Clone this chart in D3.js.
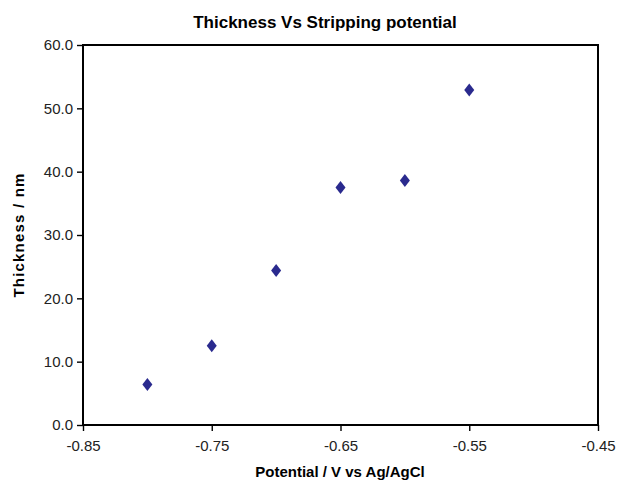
<!DOCTYPE html>
<html>
<head>
<meta charset="utf-8">
<script src="https://cdn.jsdelivr.net/npm/d3@7"></script>
<style>
  body { margin: 0; background: #fff; }
</style>
</head>
<body>
<div id="chart"></div>
<script>
// data
const potential = [-0.80, -0.75, -0.70, -0.65, -0.60, -0.55];
const thickness = [6.4, 12.5, 24.4, 37.5, 38.6, 52.9];
const xTicks = [-0.85, -0.75, -0.65, -0.55, -0.45];
const yTicks = [0, 10, 20, 30, 40, 50, 60];

const width = 619, height = 486;
const margin = {top: 45, right: 21, bottom: 61, left: 83};

const svg = d3.select('#chart').append('svg')
    .attr('width', width)
    .attr('height', height);

const x = d3.scaleLinear()
    .domain([-0.85, -0.45])
    .range([margin.left, width - margin.right]);

const y = d3.scaleLinear()
    .domain([0, 60])
    .range([height - margin.bottom, margin.top]);

// frame
svg.append('rect')
    .attr('x', x(-0.85))
    .attr('y', y(60))
    .attr('width', x(-0.45) - x(-0.85))
    .attr('height', y(0) - y(60))
    .attr('fill', 'none')
    .attr('stroke', '#000')
    .attr('stroke-width', 2);

const fmtX = d => d3.format('.2f')(d).replace('\u2212', '-');

const xAxis = svg.append('g')
    .attr('transform', `translate(0,${y(0)})`)
    .call(d3.axisBottom(x).tickValues(xTicks).tickFormat(fmtX).tickSize(6).tickPadding(9));

const yAxis = svg.append('g')
    .attr('transform', `translate(${x(-0.85)},0)`)
    .call(d3.axisLeft(y).tickValues(yTicks).tickFormat(d3.format('.1f')).tickSize(6).tickPadding(4));

[xAxis, yAxis].forEach(a => {
    a.select('.domain').remove();
    a.selectAll('.tick line').attr('stroke', '#000').attr('stroke-width', 1.4);
    a.selectAll('.tick text')
        .attr('fill', '#222')
        .style('font-size', '15px')
        .style('font-family', '"Liberation Sans", Arial, sans-serif');
});

// points
svg.append('g').selectAll('path')
    .data(potential.map((p, i) => [p, thickness[i]]))
    .join('path')
    .attr('transform', d => `translate(${x(d[0])},${y(d[1])})`)
    .attr('d', 'M0,-6.5L5,0L0,6.5L-5,0Z')
    .attr('fill', '#2a2a8e');

// title
svg.append('text')
    .attr('x', 325)
    .attr('y', 28)
    .attr('text-anchor', 'middle')
    .style('font-family', '"Liberation Sans", Arial, sans-serif')
    .style('font-weight', 'bold')
    .style('font-size', '17px')
    .text('Thickness Vs Stripping potential');

// x label
svg.append('text')
    .attr('x', 340)
    .attr('y', 477)
    .attr('text-anchor', 'middle')
    .style('font-family', '"Liberation Sans", Arial, sans-serif')
    .style('font-weight', 'bold')
    .style('font-size', '15px')
    .text('Potential / V vs Ag/AgCl');

// y label
svg.append('text')
    .attr('transform', 'translate(24,235) rotate(-90)')
    .attr('text-anchor', 'middle')
    .style('font-family', '"Liberation Sans", Arial, sans-serif')
    .style('font-weight', 'bold')
    .style('font-size', '15px')
    .style('letter-spacing', '1.2px')
    .text('Thickness / nm');
</script>
</body>
</html>
